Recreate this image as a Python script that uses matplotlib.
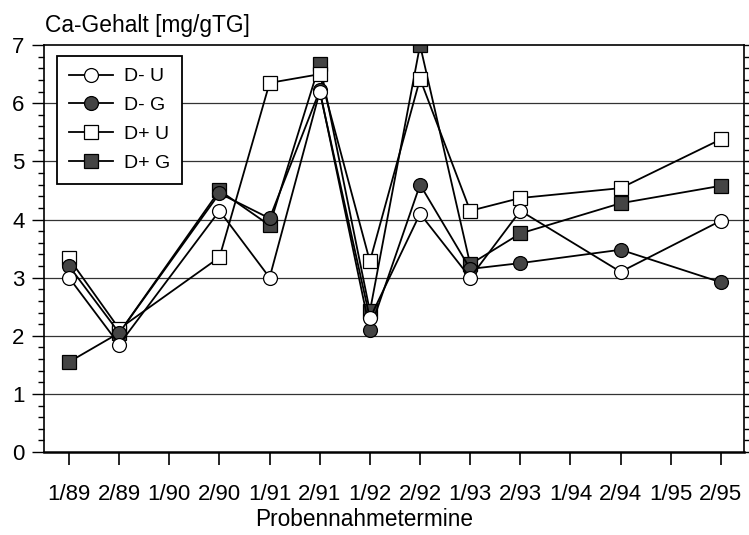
import numpy as np
import matplotlib
matplotlib.use('Agg')
import matplotlib.pyplot as plt
from matplotlib.ticker import MultipleLocator

plt.rcParams['font.family'] = ['Liberation Sans', 'DejaVu Sans']

# Probennahmetermine (1/90, 1/94, 1/95 ohne Messung)
termine = ['1/89', '2/89', '1/90', '2/90', '1/91', '2/91', '1/92',
           '2/92', '1/93', '2/93', '1/94', '2/94', '1/95', '2/95']

nan = np.nan
d_minus_u = [3.0, 1.85, nan, 4.15, 3.0, 6.2, 2.3, 4.1, 3.0, 4.15, nan, 3.1, nan, 3.98]
d_minus_g = [3.2, 2.05, nan, 4.45, 4.02, 6.22, 2.1, 4.6, 3.15, 3.25, nan, 3.48, nan, 2.92]
d_plus_u = [3.33, 2.12, nan, 3.35, 6.35, 6.5, 3.28, 6.42, 4.15, 4.37, nan, 4.54, nan, 5.38]
d_plus_g = [1.55, 2.05, nan, 4.5, 3.9, 6.68, 2.42, 7.0, 3.23, 3.76, nan, 4.28, nan, 4.58]

fig = plt.figure(figsize=(7.49, 5.35), dpi=100)
ax = fig.add_axes([0.0587, 0.155, 0.9346, 0.7607])

x = np.arange(len(termine))
dark = '#444444'

reihen = [
    ('D- U', d_minus_u, 'o', 'white', 5),
    ('D- G', d_minus_g, 'o', dark, 4),
    ('D+ U', d_plus_u, 's', 'white', 3),
    ('D+ G', d_plus_g, 's', dark, 2),
]

for name, werte, marker, fc, z in reihen:
    w = np.array(werte, dtype=float)
    ok = ~np.isnan(w)
    ax.plot(x[ok], w[ok], color='black', linewidth=1.3, marker=marker,
            markersize=10 if marker == 'o' else 9.5, markerfacecolor=fc,
            markeredgecolor='black', markeredgewidth=0.9, label=name, zorder=z)

ax.set_xlim(-0.5, 13.46)
ax.set_ylim(0, 7)
ax.set_xticks(x)
ax.set_xticklabels(termine)
ax.yaxis.set_major_locator(MultipleLocator(1))
ax.yaxis.set_minor_locator(MultipleLocator(0.2))

for yv in range(1, 7):
    ax.axhline(yv, color='#333333', linewidth=0.9, zorder=1)

ax.tick_params(axis='x', direction='out', length=9, width=1.2, pad=14, labelsize=16)
ax.tick_params(axis='y', which='major', direction='out', length=9, width=1.0,
               labelsize=16, right=True, pad=5)
ax.tick_params(axis='y', which='minor', direction='out', length=4, width=1.0, right=True)

for s in ['top', 'right', 'left']:
    ax.spines[s].set_linewidth(1.2)
ax.spines['bottom'].set_linewidth(1.8)

fig.text(0.486, 0.016, 'Probennahmetermine', fontsize=16.3, ha='center', va='baseline')
fig.text(0.060, 0.940, 'Ca-Gehalt [mg/gTG]', fontsize=16.4, ha='left', va='baseline')

leg = ax.legend(loc='upper left', bbox_to_anchor=(0.0186, 0.973), borderaxespad=0,
                fontsize=14, fancybox=False, framealpha=1, edgecolor='black',
                handlelength=2.3, handletextpad=0.55, labelspacing=0.58,
                borderpad=0.6)
leg.get_frame().set_linewidth(1.3)
leg.set_zorder(10)

fig.savefig('out.png', dpi=100)
